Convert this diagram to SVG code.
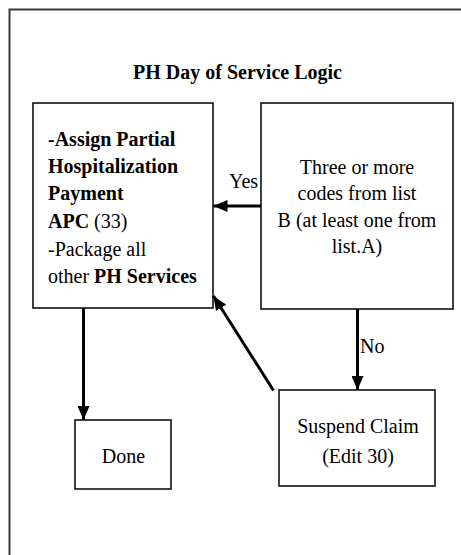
<svg xmlns="http://www.w3.org/2000/svg" width="461" height="555" viewBox="0 0 461 555">
<style>
.box{fill:#fff;stroke:#111;stroke-width:1.6}
.t{font-family:"Liberation Serif","Times New Roman",serif;font-size:20px;fill:#000}
.b{font-weight:bold}
.c{stroke:#000;stroke-width:3;fill:none}
</style>
<defs>
<marker id="ah" viewBox="0 0 14 12" refX="14" refY="6" markerWidth="14" markerHeight="12" markerUnits="userSpaceOnUse" orient="auto">
<path d="M0,0 L14,6 L0,12 Z" fill="#000"/>
</marker>
</defs>
<rect x="0" y="0" width="461" height="555" fill="#fff"/>
<rect id="frame" x="9.5" y="9.5" width="470" height="570" fill="none" stroke="#3a3a3a" stroke-width="2"/>
<text id="title" class="t b" x="237.5" y="79" text-anchor="middle">PH Day of Service Logic</text>
<g id="assign">
<rect class="box" x="33" y="103" width="180" height="205"/>
<text class="t" x="48" y="146"><tspan class="b">-Assign Partial</tspan></text>
<text class="t" x="48" y="173"><tspan class="b">Hospitalization</tspan></text>
<text class="t" x="48" y="200"><tspan class="b">Payment</tspan></text>
<text class="t" x="48" y="228"><tspan class="b">APC</tspan> (33)</text>
<text class="t" x="48" y="255.5">-Package all</text>
<text class="t" x="48" y="282.5">other <tspan class="b">PH Services</tspan></text>
</g>
<g id="three">
<rect class="box" x="261" y="103" width="192" height="206"/>
<text class="t" x="357" y="174" text-anchor="middle">Three or more</text>
<text class="t" x="357" y="200" text-anchor="middle">codes from list</text>
<text class="t" x="357" y="226.5" text-anchor="middle">B (at least one from</text>
<text class="t" x="357" y="253" text-anchor="middle">list.A)</text>
</g>
<g id="suspend">
<rect class="box" x="279" y="390" width="156" height="96"/>
<text class="t" x="358" y="433" text-anchor="middle">Suspend Claim</text>
<text class="t" x="358" y="462.5" text-anchor="middle">(Edit 30)</text>
</g>
<g id="done">
<rect class="box" x="75" y="420" width="96" height="69"/>
<text class="t" x="123.5" y="463" text-anchor="middle">Done</text>
</g>
<g id="connectors">
<line class="c" x1="261" y1="206" x2="213.5" y2="206" marker-end="url(#ah)"/>
<text class="t" x="229" y="188">Yes</text>
<line class="c" x1="357.5" y1="309" x2="357.5" y2="390" marker-end="url(#ah)"/>
<text class="t" x="360" y="352.5">No</text>
<line class="c" x1="83.5" y1="308" x2="83.5" y2="420" marker-end="url(#ah)"/>
<line class="c" x1="273.5" y1="390.5" x2="213.5" y2="296" marker-end="url(#ah)"/>
</g>
</svg>
